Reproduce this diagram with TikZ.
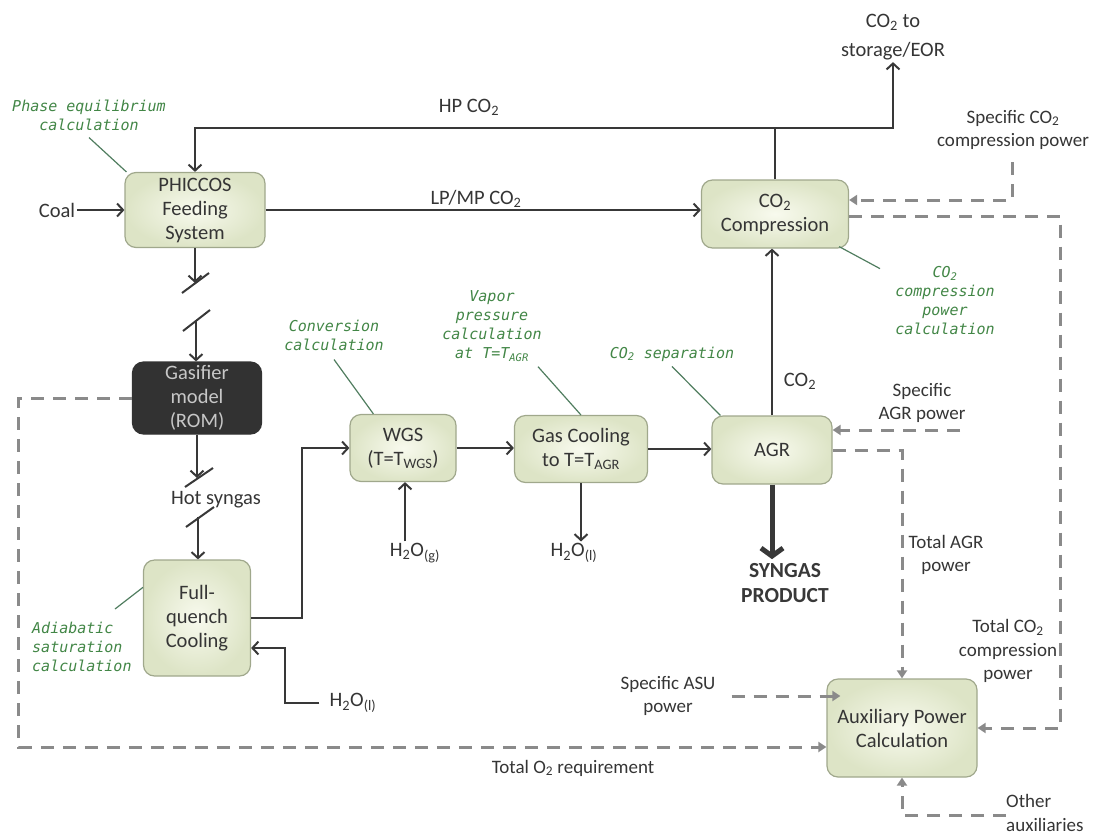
\documentclass[tikz,border=0pt]{standalone}
\usepackage{fontspec}
\setmainfont{Carlito}
\newfontfamily\notefont{DejaVu Sans Mono}
\usetikzlibrary{arrows.meta,calc}

\definecolor{flowc}{HTML}{383838}
\definecolor{dashc}{HTML}{8A8A8A}
\definecolor{txt}{HTML}{353535}
\definecolor{notegreen}{RGB}{66,134,70}
\definecolor{leaderc}{RGB}{80,125,95}
\definecolor{boxin}{HTML}{F8FAEE}
\definecolor{boxout}{HTML}{DDE4C6}
\definecolor{boxedge}{HTML}{A0A88C}
\definecolor{darkbox}{HTML}{323232}

\begin{document}
\begin{tikzpicture}[x=1pt,y=-1pt,
  proc/.style={draw=boxedge, line width=1.2pt, rounded corners=11pt,
    inner color=boxin, outer color=boxout, text=txt, align=center,
    font=\fontsize{20.5}{24}\selectfont, inner sep=2pt},
  darkproc/.style={draw=darkbox, line width=1.2pt, rounded corners=11pt,
    fill=darkbox, text=black!22, align=center,
    font=\fontsize{20.5}{24}\selectfont, inner sep=2pt},
  lbl/.style={text=txt, align=center, font=\fontsize{20.5}{24}\selectfont, inner sep=2pt},
  side/.style={lbl, font=\fontsize{19}{23.5}\selectfont},
  note/.style={text=notegreen, align=center, inner sep=1pt,
    font={\notefont\itshape\fontsize{15}{19}\selectfont}},
  flow/.style={draw=flowc, line width=2pt,
    -{Straight Barb[length=6pt,width=13pt]}},
  plain/.style={draw=flowc, line width=2pt},
  bigflow/.style={draw=flowc, line width=5pt,
    -{Straight Barb[length=8pt,width=22pt]}},
  auxline/.style={draw=dashc, line width=3pt, dash pattern=on 13pt off 9pt,
    -{Triangle[length=8pt,width=10pt]}},
  leader/.style={draw=leaderc, line width=1.2pt}
]
\useasboundingbox (0,0) rectangle (1094,836);

% ---------- process blocks ----------
\node[proc, minimum width=140pt, minimum height=75pt] (phiccos) at (195,210) {PHICCOS\\Feeding\\System};
\node[proc, minimum width=147pt, minimum height=68pt] (co2comp) at (775,214) {CO\textsubscript{2}\\Compression};
\node[darkproc, minimum width=129pt, minimum height=72pt] (gasifier) at (197,398) {Gasifier\\model\\(ROM)};
\node[proc, minimum width=107pt, minimum height=116pt] (quench) at (197,618) {Full-\\quench\\Cooling};
\node[proc, minimum width=106pt, minimum height=67pt] (wgs) at (403,448) {WGS\\(T=T\textsubscript{WGS})};
\node[proc, minimum width=133pt, minimum height=67pt] (gascool) at (581,449) {Gas Cooling\\to T=T\textsubscript{AGR}};
\node[proc, minimum width=120pt, minimum height=68pt] (agr) at (772,450) {AGR};
\node[proc, minimum width=150pt, minimum height=98pt] (aux) at (902,728) {Auxiliary Power\\Calculation};

% ---------- stream labels ----------
\node[lbl] (coal) at (57,210) {Coal};
\node[lbl] at (476,199) {LP/MP CO\textsubscript{2}};
\node[lbl] at (469,107) {HP CO\textsubscript{2}};
\node[lbl, font=\fontsize{20.5}{29}\selectfont] (storage) at (893,37) {CO\textsubscript{2} to\\storage/EOR};
\node[lbl] at (216,500) {Hot syngas};
\node[lbl] (h2ol1) at (353,703) {H\textsubscript{2}O\textsubscript{(l)}};
\node[lbl] (h2og) at (415,553) {H\textsubscript{2}O\textsubscript{(g)}};
\node[lbl] (h2ol2) at (574,553) {H\textsubscript{2}O\textsubscript{(l)}};
\node[lbl] at (800,381) {CO\textsubscript{2}};
\node[lbl, font=\bfseries\fontsize{21.5}{25}\selectfont, text=flowc] (syngas) at (785,583) {SYNGAS\\PRODUCT};
\node[side] at (1013,130) {Specific CO\textsubscript{2}\\compression power};
\node[side] at (922,403) {Specific\\AGR power};
\node[side] at (946,555) {Total AGR\\power};
\node[side] at (1008,651) {Total CO\textsubscript{2}\\compression\\power};
\node[side] (asu) at (668,696) {Specific ASU\\power};
\node[side, align=left, anchor=west] at (1004,813) {Other\\auxiliaries};
\node[side] at (573,768) {Total O\textsubscript{2} requirement};

% ---------- calculation notes ----------
\node[note] (phase) at (89,115) {Phase equilibrium\\calculation};
\node[note] (conv) at (334,335) {Conversion\\calculation};
\node[note] (vapor) at (492,326) {Vapor\\pressure\\calculation\\at T=T\textsubscript{AGR}};
\node[note] (sep) at (672,354) {CO\textsubscript{2} separation};
\node[note] (comppow) at (945,301) {CO\textsubscript{2}\\compression\\power\\calculation};
\node[note, align=left, anchor=west] (adiab) at (31,647) {Adiabatic\\saturation\\calculation};

\draw[leader] ([yshift=-6pt]phase.south) -- ([xshift=2pt]phiccos.north west);
\draw[leader] ([yshift=-8pt]conv.south) -- ([xshift=24pt]wgs.north west);
\draw[leader] ([xshift=46pt,yshift=-4pt]vapor.south) -- ([xshift=67pt]gascool.north west);
\draw[leader] ([yshift=-4pt]sep.south) -- ([xshift=9pt]agr.north west);
\draw[leader] ([xshift=-65pt,yshift=-3pt]comppow.north) -- ([xshift=-10pt,yshift=2pt]co2comp.south east);
\draw[leader] ([xshift=84pt,yshift=12pt]adiab.north west) -- ([yshift=-28pt]quench.north west);

% ---------- material streams ----------
\draw[flow] (coal.east) -- (coal.east -| phiccos.west);
\draw[flow] (phiccos.east) -- (phiccos.east -| co2comp.west);

\coordinate (hpsplit) at (775,128);
\draw[flow] (co2comp.north) -- (hpsplit) -| (phiccos.north);
\draw[flow] (hpsplit) -| (storage.south);

% feed to gasifier, with break marks
\coordinate (brkA) at (195,283);
\coordinate (brkB) at (196,321);
\draw[flow] (phiccos.south) -- (brkA);
\draw[plain] ($(brkA)+(-13,10)$) -- ($(brkA)+(14,-10)$);
\draw[plain] ($(brkB)+(-13,10)$) -- ($(brkB)+(14,-11)$);
\draw[flow] (brkB) -- (brkB |- gasifier.north);

% hot syngas to quench, with break marks
\coordinate (brkC) at (197,478);
\coordinate (brkD) at (198,517);
\draw[flow] (gasifier.south) -- (brkC);
\draw[plain] ($(brkC)+(-12,9)$) -- ($(brkC)+(16,-10)$);
\draw[plain] ($(brkD)+(-12,10)$) -- ($(brkD)+(16,-10)$);
\draw[flow] (brkD) -- (brkD |- quench.north);

\draw[flow] (quench.east) -- ++(51,0) |- (wgs.west);
\draw[flow] ([xshift=-8pt]h2ol1.west) -- ++(-34,0) |- ([yshift=-30pt]quench.east);
\draw[flow] ([xshift=-10pt]h2og.north) -- ([xshift=-10pt]h2og.north |- wgs.south);
\draw[flow] (wgs.east) -- (wgs.east -| gascool.west);
\draw[flow] (gascool.east) -- (gascool.east -| agr.west);
\draw[flow] (gascool.south) -- (gascool.south |- h2ol2.north);
\draw[flow] (agr.north) -- (agr.north |- co2comp.south);
\draw[bigflow] (agr.south) -- ([yshift=2pt]agr.south |- syngas.north);

% ---------- power / information links ----------
\coordinate (co2src) at (1012,162);
\draw[auxline] (co2src) |- ([yshift=14pt]co2comp.east);
\draw[auxline] ([yshift=-2pt]co2comp.east) -| ([xshift=83pt]aux.east) -- (aux.east);

\coordinate (agrsrc) at (960,430);
\draw[auxline] (agrsrc) -- (agrsrc -| agr.east);
\draw[auxline] (agr.east) -| (aux.north);

\draw[auxline] (gasifier.west) -- ++(-113,0) |- ([yshift=-19pt]aux.west);
\draw[auxline] ([xshift=14pt]asu.east) -- ([xshift=14pt]asu.east -| aux.west);

\coordinate (othsrc) at (1006,815);
\draw[auxline] (othsrc) -| (aux.south);

\end{tikzpicture}
\end{document}
